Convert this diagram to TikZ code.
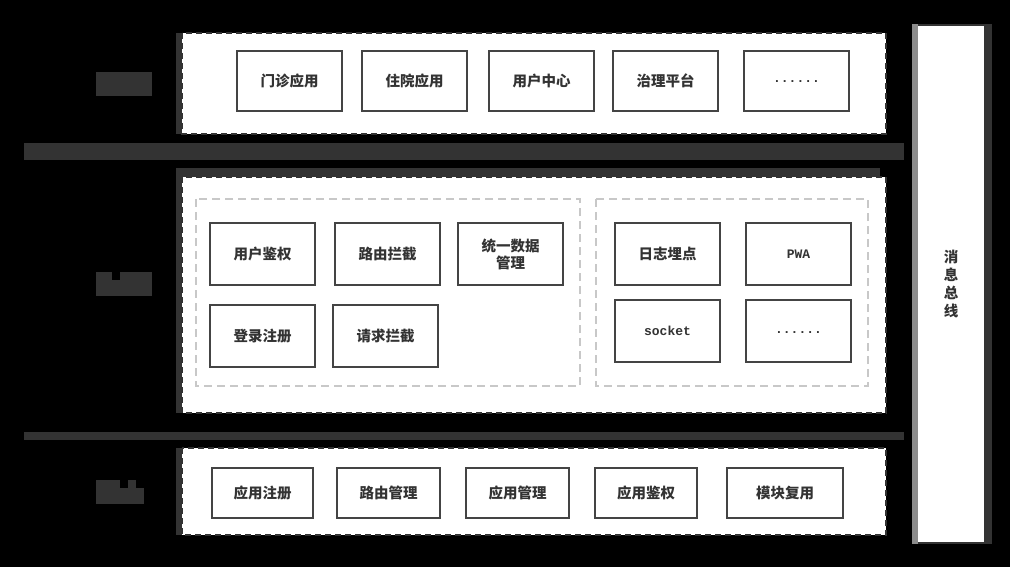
\documentclass[tikz,border=0pt]{standalone}
\usepackage{fontspec}
\newfontfamily\cjk{Noto Sans CJK SC}
\newfontfamily\monofont{Liberation Mono}
\definecolor{bardark}{RGB}{51, 51, 51}
\definecolor{boxline}{RGB}{68, 68, 68}
\definecolor{groupgray}{RGB}{200, 200, 200}
\definecolor{busgray}{RGB}{140, 140, 140}
\usetikzlibrary{positioning}
\tikzset{
  layerbox/.style={fill=white, draw=bardark, line width=2pt, dash pattern=on 6pt off 4pt},
  groupbox/.style={draw=groupgray, line width=1.2pt, dash pattern=on 8pt off 5pt},
  item/.style={draw=boxline, line width=1.5pt, fill=white, inner sep=0pt,
    font=\cjk\bfseries\fontsize{14.5}{17}\selectfont, text=bardark, align=center},
  latinitem/.style={item, font=\monofont\bfseries\fontsize{13}{16}\selectfont},
  labelblock/.style={fill=bardark, draw=none}
}

\begin{document}
\begin{tikzpicture}[x=1pt, y=-1pt]
  \useasboundingbox (0,0) rectangle (1010,567);
  \fill[black] (0,0) rectangle (1010,567);

  % side labels
  \fill[labelblock] (96,72) rectangle (152,96);
  \fill[labelblock] (96,280) rectangle (152,296);
  \fill[labelblock] (96,272) rectangle (112,280);
  \fill[labelblock] (120,272) rectangle (152,280);
  \fill[labelblock] (96,488) rectangle (144,504);
  \fill[labelblock] (96,480) rectangle (120,488);
  \fill[labelblock] (128,480) rectangle (136,488);

  % separator bars
  \fill[bardark] (24,143) rectangle (904,160);
  \fill[bardark] (24,432) rectangle (904,440);

  % top layer
  \fill[bardark] (176,33) rectangle (184,134);
  \draw[layerbox] (182,33) rectangle (886,134);
  \node[item, minimum width=105pt, minimum height=60pt] (menzhen) at (289.5,81) {门诊应用};
  \node[item, minimum width=105pt, minimum height=60pt] (zhuyuan) at (414.5,81) {住院应用};
  \node[item, minimum width=105pt, minimum height=60pt] (yonghu) at (541.5,81) {用户中心};
  \node[item, minimum width=105pt, minimum height=60pt] (zhili) at (665.5,81) {治理平台};
  \node[latinitem, minimum width=105pt, minimum height=60pt] (more1) at (796.5,81) {\raisebox{-4pt}{......}};

  % middle layer
  \fill[bardark] (176,168) rectangle (880,177);
  \fill[bardark] (176,168) rectangle (184,413);
  \draw[layerbox] (182,177) rectangle (886,413);
  \draw[groupbox] (196,199) rectangle (580,386);
  \draw[groupbox] (596,199) rectangle (868,386);
  \node[item, minimum width=105pt, minimum height=62pt] (jianquan) at (262.5,254) {用户鉴权};
  \node[item, minimum width=105pt, minimum height=62pt] (luyou) at (387.5,254) {路由拦截};
  \node[item, minimum width=105pt, minimum height=62pt] (shuju) at (510.5,254) {统一数据\\管理};
  \node[item, minimum width=105pt, minimum height=62pt] (denglu) at (262.5,336) {登录注册};
  \node[item, minimum width=105pt, minimum height=62pt] (qingqiu) at (385.5,336) {请求拦截};
  \node[item, minimum width=105pt, minimum height=62pt] (rizhi) at (667.5,254) {日志埋点};
  \node[latinitem, minimum width=105pt, minimum height=62pt] (pwa) at (798.5,254) {PWA};
  \node[latinitem, minimum width=105pt, minimum height=62pt] (socket) at (667.5,331) {socket};
  \node[latinitem, minimum width=105pt, minimum height=62pt] (more2) at (798.5,331) {\raisebox{-4pt}{......}};

  % bottom layer
  \fill[bardark] (176,448) rectangle (184,535);
  \draw[layerbox] (182,448) rectangle (886,535);
  \node[item, minimum width=101pt, minimum height=50pt] (zhuce) at (262.5,493) {应用注册};
  \node[item, minimum width=103pt, minimum height=50pt] (luyougl) at (388.5,493) {路由管理};
  \node[item, minimum width=103pt, minimum height=50pt] (yingyonggl) at (517.5,493) {应用管理};
  \node[item, minimum width=102pt, minimum height=50pt] (yyjianquan) at (646,493) {应用鉴权};
  \node[item, minimum width=116pt, minimum height=50pt] (fuyong) at (785,493) {模块复用};

  % message bus
  \fill[bardark] (912,24) rectangle (992,544);
  \fill[busgray] (912,24) rectangle (918,544);
  \fill[white] (918,26) rectangle (984,542);
  \node[font=\cjk\bfseries\fontsize{14.5}{18}\selectfont, text=bardark, align=center] (bus) at (951,284) {消\\息\\总\\线};
\end{tikzpicture}
\end{document}
